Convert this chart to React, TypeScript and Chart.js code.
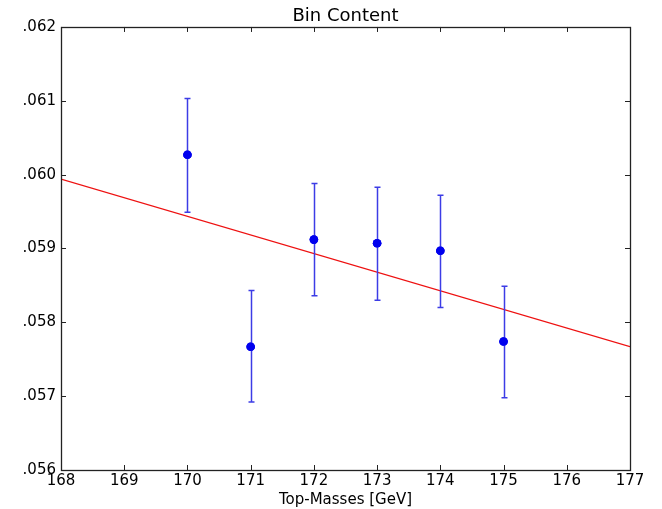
import React, { useEffect, useRef } from "react";
import { Chart, registerables } from "chart.js";

Chart.register(...registerables);

const masses = [170, 171, 172, 173, 174, 175];
const binContent = [0.06027, 0.05767, 0.05912, 0.05907, 0.05897, 0.05774];
const errHigh = [0.06103, 0.05843, 0.05988, 0.05983, 0.05972, 0.05849];
const errLow = [0.05949, 0.05692, 0.05836, 0.05830, 0.05820, 0.05698];
const fitX = [168, 177];
const fitY = [0.05994, 0.05767];

const FONT = "'DejaVu Sans', sans-serif";

const errorBarPlugin = {
  id: "errorBars",
  afterDatasetsDraw(chart: any) {
    const { ctx, scales } = chart;
    const xs = scales.x, ys = scales.y;
    ctx.save();
    ctx.strokeStyle = "#3c3ce6";
    ctx.lineWidth = 1.5;
    masses.forEach((m, i) => {
      const px = Math.round(xs.getPixelForValue(m)) + 0.5;
      const top = ys.getPixelForValue(errHigh[i]);
      const bot = ys.getPixelForValue(errLow[i]);
      ctx.beginPath();
      ctx.moveTo(px, top);
      ctx.lineTo(px, bot);
      ctx.moveTo(px - 3, top);
      ctx.lineTo(px + 3, top);
      ctx.moveTo(px - 3, bot);
      ctx.lineTo(px + 3, bot);
      ctx.stroke();
    });
    const meta = chart.getDatasetMeta(1);
    meta.data.forEach((pt: any) => {
      ctx.beginPath();
      ctx.fillStyle = "#0000ee";
      ctx.arc(pt.x, pt.y, 4.3, 0, Math.PI * 2);
      ctx.fill();
    });
    ctx.restore();
  },
};

const framePlugin = {
  id: "frame",
  afterDraw(chart: any) {
    const { ctx, chartArea: a, scales } = chart;
    ctx.save();
    ctx.strokeStyle = "#222";
    ctx.lineWidth = 1.3;
    ctx.strokeRect(Math.round(a.left) + 0.5, Math.round(a.top) + 0.5, Math.round(a.right - a.left), Math.round(a.bottom - a.top));
    const tl = 5;
    ctx.lineWidth = 1;
    ctx.beginPath();
    scales.x.ticks.forEach((t: any) => {
      const px = Math.round(scales.x.getPixelForValue(t.value)) + 0.5;
      ctx.moveTo(px, a.bottom);
      ctx.lineTo(px, a.bottom - tl);
      ctx.moveTo(px, a.top);
      ctx.lineTo(px, a.top + tl);
    });
    scales.y.ticks.forEach((t: any) => {
      const py = Math.round(scales.y.getPixelForValue(t.value)) + 0.5;
      ctx.moveTo(a.left, py);
      ctx.lineTo(a.left + tl, py);
      ctx.moveTo(a.right, py);
      ctx.lineTo(a.right - tl, py);
    });
    ctx.stroke();
    ctx.restore();
  },
};

export default function App() {
  const ref = useRef<HTMLCanvasElement>(null);
  useEffect(() => {
    document.body.style.margin = "0";
    const chart = new Chart(ref.current!, {
      type: "scatter",
      data: {
        datasets: [
          {
            type: "line",
            label: "fit",
            data: fitX.map((x, i) => ({ x, y: fitY[i] })),
            borderColor: "#ee1111",
            borderWidth: 1.3,
            pointRadius: 0,
            fill: false,
          },
          {
            label: "Bin Content",
            data: masses.map((x, i) => ({ x, y: binContent[i] })),
            backgroundColor: "#0000ee",
            borderColor: "#0000ee",
            pointRadius: 4.3,
            borderWidth: 0,
          },
        ],
      },
      options: {
        responsive: false,
        animation: false,
        layout: { padding: { left: 0, right: 32, top: 0, bottom: 0 } },
        plugins: {
          legend: { display: false },
          tooltip: { enabled: false },
          title: {
            display: true,
            text: "Bin Content",
            fullSize: false,
            color: "#000",
            font: { family: FONT, size: 18, weight: "normal", lineHeight: 1.22 },
            padding: { top: 5, bottom: 0 },
          },
        },
        scales: {
          x: {
            type: "linear",
            min: 168,
            max: 177,
            ticks: { stepSize: 1, color: "#000", font: { family: FONT, size: 15 }, padding: 2, maxRotation: 0 },
            grid: { display: false, drawTicks: false },
            border: { display: false },
            title: { display: true, text: "Top-Masses [GeV]", color: "#000", font: { family: FONT, size: 15 }, padding: 0 },
            afterFit: (s: any) => { s.height = 39; },
          },
          y: {
            type: "linear",
            min: 0.056,
            max: 0.062,
            ticks: {
              stepSize: 0.001,
              color: "#000",
              font: { family: FONT, size: 15 },
              padding: 5,
              callback: (v: any) => Number(v).toFixed(3).replace(/^0/, ""),
            },
            grid: { display: false, drawTicks: false },
            border: { display: false },
            afterFit: (s: any) => { s.width = 61; },
          },
        },
      },
      plugins: [errorBarPlugin, framePlugin],
    } as any);
    return () => chart.destroy();
  }, []);
  return <canvas ref={ref} width={662} height={509} />;
}
